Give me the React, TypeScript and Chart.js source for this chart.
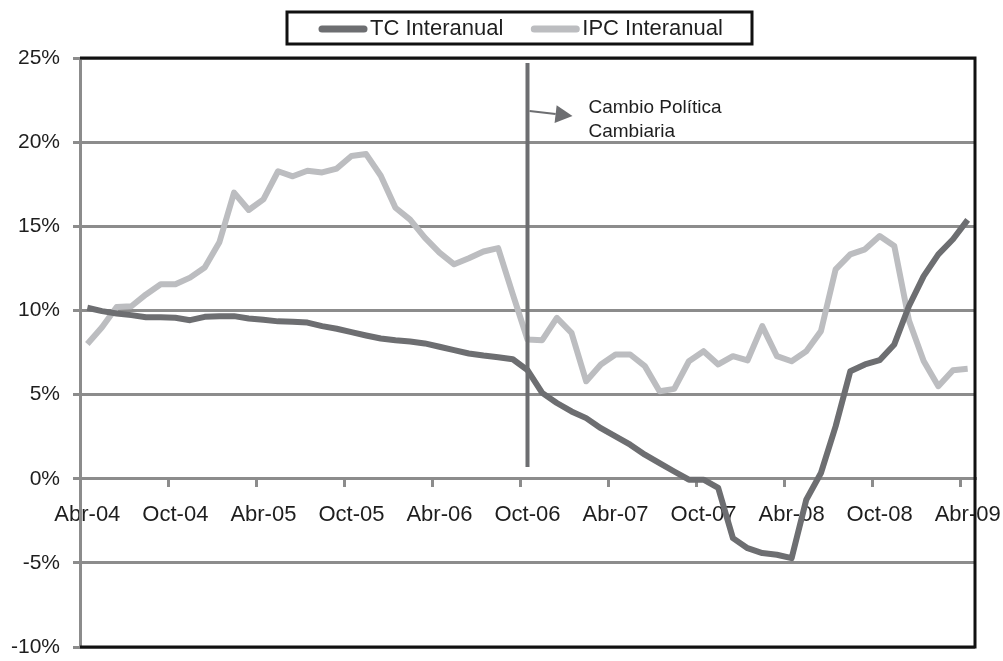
import React, { useEffect, useRef } from "react";
import { Chart, registerables } from "chart.js";

Chart.register(...registerables);

// ---------- DATA ----------
const categories: string[] = [
  "Abr-04", "May-04", "Jun-04", "Jul-04", "Ago-04", "Sep-04", "Oct-04", "Nov-04", "Dic-04", "Ene-05", "Feb-05", "Mar-05",
  "Abr-05", "May-05", "Jun-05", "Jul-05", "Ago-05", "Sep-05", "Oct-05", "Nov-05", "Dic-05", "Ene-06", "Feb-06", "Mar-06",
  "Abr-06", "May-06", "Jun-06", "Jul-06", "Ago-06", "Sep-06", "Oct-06", "Nov-06", "Dic-06", "Ene-07", "Feb-07", "Mar-07",
  "Abr-07", "May-07", "Jun-07", "Jul-07", "Ago-07", "Sep-07", "Oct-07", "Nov-07", "Dic-07", "Ene-08", "Feb-08", "Mar-08",
  "Abr-08", "May-08", "Jun-08", "Jul-08", "Ago-08", "Sep-08", "Oct-08", "Nov-08", "Dic-08", "Ene-09", "Feb-09", "Mar-09",
  "Abr-09",
];

const tcInteranual: number[] = [
  10.16, 9.96, 9.82, 9.72, 9.6, 9.6, 9.56, 9.42, 9.62, 9.66, 9.66, 9.52,
  9.44, 9.35, 9.33, 9.28, 9.07, 8.91, 8.71, 8.51, 8.33, 8.23, 8.15, 8.04,
  7.84, 7.64, 7.44, 7.32, 7.22, 7.1, 6.45, 5.1, 4.5, 4.0, 3.6, 3.0,
  2.52, 2.02, 1.43, 0.93, 0.43, -0.06, -0.06, -0.55, -3.53, -4.13, -4.42, -4.52,
  -4.72, -1.25, 0.34, 3.11, 6.39, 6.79, 7.04, 7.98, 10.26, 12.04, 13.33, 14.23,
  15.38,
];

const ipcInteranual: number[] = [
  8.0, 9.0, 10.2, 10.25, 10.95, 11.55, 11.55, 11.95, 12.55, 14.05, 17.0, 15.97,
  16.6, 18.27, 17.97, 18.3, 18.2, 18.43, 19.18, 19.29, 18.0, 16.1, 15.4, 14.33,
  13.43, 12.74, 13.1, 13.5, 13.7, 10.95, 8.27, 8.23, 9.56, 8.67, 5.79, 6.79,
  7.38, 7.38, 6.69, 5.2, 5.34, 6.98, 7.58, 6.79, 7.28, 7.03, 9.07, 7.28,
  6.98, 7.58, 8.77, 12.44, 13.33, 13.63, 14.42, 13.83, 9.4, 7.0, 5.5, 6.45,
  6.53,
];

const seriesNames: string[] = ["TC Interanual", "IPC Interanual"];
const yTicks: number[] = [-10, -5, 0, 5, 10, 15, 20, 25];
const tickEvery = 6;

// annotation
const policyChangeCategory = "Oct-06";
const policyLineFrom = 24.7;
const policyLineTo = 0.7;
const arrowFromValue = 21.85;
const arrowToValue = 21.55;
const annotationLines: string[] = ["Cambio Política", "Cambiaria"];

// ---------- STYLE ----------
const TC_COLOR = "#6d6e71";
const IPC_COLOR = "#bcbdc0";
const GRID_COLOR = "#8c8c8c";
const TEXT_COLOR = "#1e1e1e";
const FONT = '"Liberation Sans", Arial, Helvetica, sans-serif';

const decorPlugin = {
  id: "decor",
  afterDatasetsDraw(chart: any) {
    const { ctx, scales } = chart;
    const idx = categories.indexOf(policyChangeCategory);
    const x = scales.x.getPixelForValue(idx);
    const yTop = scales.y.getPixelForValue(policyLineFrom);
    const yBot = scales.y.getPixelForValue(policyLineTo);
    ctx.save();
    ctx.strokeStyle = TC_COLOR;
    ctx.lineWidth = 4;
    ctx.beginPath();
    ctx.moveTo(x, yTop);
    ctx.lineTo(x, yBot);
    ctx.stroke();

    // arrow
    const ax0 = x + 2;
    const ax1 = x + 45;
    const ay0 = scales.y.getPixelForValue(arrowFromValue);
    const ay1 = scales.y.getPixelForValue(arrowToValue);
    const dx = ax1 - ax0;
    const dy = ay1 - ay0;
    const len = Math.sqrt(dx * dx + dy * dy);
    const ux = dx / len;
    const uy = dy / len;
    const bx = ax1 - ux * 17;
    const by = ay1 - uy * 17;
    ctx.lineWidth = 2;
    ctx.beginPath();
    ctx.moveTo(ax0, ay0);
    ctx.lineTo(bx, by);
    ctx.stroke();
    ctx.fillStyle = TC_COLOR;
    ctx.beginPath();
    ctx.moveTo(ax1, ay1);
    ctx.lineTo(bx - uy * 9, by + ux * 9);
    ctx.lineTo(bx + uy * 9, by - ux * 9);
    ctx.closePath();
    ctx.fill();

    ctx.fillStyle = TEXT_COLOR;
    ctx.font = `19px ${FONT}`;
    ctx.textBaseline = "middle";
    ctx.textAlign = "left";
    ctx.fillText(annotationLines[0], ax1 + 16, ay1 - 8);
    ctx.fillText(annotationLines[1], ax1 + 16, ay1 + 16);
    ctx.restore();
  },
  afterDraw(chart: any) {
    const { ctx, chartArea } = chart;
    const { left, right, top, bottom } = chartArea;
    ctx.save();
    // frame
    ctx.strokeStyle = "#111";
    ctx.lineWidth = 3;
    ctx.beginPath();
    ctx.moveTo(left, top);
    ctx.lineTo(right, top);
    ctx.lineTo(right, bottom);
    ctx.lineTo(left, bottom);
    ctx.stroke();

    // legend
    const boxX = 287;
    const boxY = 12;
    const boxW = 465;
    const boxH = 32;
    ctx.lineWidth = 3;
    ctx.strokeStyle = "#111";
    ctx.strokeRect(boxX, boxY, boxW, boxH);
    const cy = boxY + boxH / 2 + 1;
    ctx.font = `22px ${FONT}`;
    ctx.textBaseline = "middle";
    ctx.textAlign = "left";
    const colors = [TC_COLOR, IPC_COLOR];
    let cx = boxX + 35;
    seriesNames.forEach((name, i) => {
      ctx.strokeStyle = colors[i];
      ctx.lineWidth = 7;
      ctx.lineCap = "round";
      ctx.beginPath();
      ctx.moveTo(cx, cy);
      ctx.lineTo(cx + 42, cy);
      ctx.stroke();
      ctx.fillStyle = TEXT_COLOR;
      ctx.fillText(name, cx + 48, cy);
      cx += 48 + ctx.measureText(name).width + 31;
    });
    ctx.restore();
  },
};

export default function App() {
  const canvasRef = useRef<HTMLCanvasElement | null>(null);

  useEffect(() => {
    if (!canvasRef.current) return;
    const chart = new Chart(canvasRef.current, {
      type: "line",
      data: {
        labels: categories,
        datasets: [
          {
            label: seriesNames[0],
            data: tcInteranual,
            borderColor: TC_COLOR,
            backgroundColor: TC_COLOR,
            borderWidth: 6,
            pointRadius: 0,
            tension: 0,
            borderJoinStyle: "round",
          },
          {
            label: seriesNames[1],
            data: ipcInteranual,
            borderColor: IPC_COLOR,
            backgroundColor: IPC_COLOR,
            borderWidth: 6,
            pointRadius: 0,
            tension: 0,
            borderJoinStyle: "round",
          },
        ],
      },
      options: {
        animation: false,
        responsive: true,
        maintainAspectRatio: false,
        layout: { padding: { left: 0, right: 28, top: 58, bottom: 14 } },
        plugins: {
          legend: { display: false },
          tooltip: { enabled: false },
        },
        scales: {
          x: {
            type: "category",
            position: { y: 0 } as any,
            offset: true,
            afterFit: (scale: any) => {
              scale.paddingLeft = 0;
              scale.paddingRight = 0;
              scale.paddingTop = 0;
              scale.paddingBottom = 0;
            },
            grid: {
              offset: true,
              drawOnChartArea: false,
              drawTicks: true,
              tickLength: 7,
              lineWidth: 3,
              color: (c: any) => (c.index % tickEvery === 0 ? GRID_COLOR : "rgba(0,0,0,0)"),
            },
            border: { display: true, color: GRID_COLOR, width: 3 },
            ticks: {
              autoSkip: false,
              maxRotation: 0,
              minRotation: 0,
              padding: 16,
              color: TEXT_COLOR,
              font: { family: FONT, size: 22 },
              callback: (_v: any, i: number) => (i % tickEvery === 0 ? categories[i] : ""),
            },
          },
          y: {
            min: yTicks[0],
            max: yTicks[yTicks.length - 1],
            afterBuildTicks: (scale: any) => {
              scale.ticks = yTicks.map((v) => ({ value: v }));
            },
            afterFit: (scale: any) => {
              scale.width = 80;
              scale.paddingTop = 0;
              scale.paddingBottom = 0;
            },
            grid: {
              color: GRID_COLOR,
              lineWidth: 3,
              tickLength: 7,
            },
            border: { display: true, color: GRID_COLOR, width: 3 },
            ticks: {
              padding: 13,
              color: TEXT_COLOR,
              font: { family: FONT, size: 21 },
              callback: (v: any) => `${v}%`,
            },
          },
        },
      },
      plugins: [decorPlugin],
    });
    return () => chart.destroy();
  }, []);

  return (
    <div style={{ position: "fixed", left: 0, top: 0, width: 1003, height: 661, background: "#fff" }}>
      <canvas ref={canvasRef} />
    </div>
  );
}
